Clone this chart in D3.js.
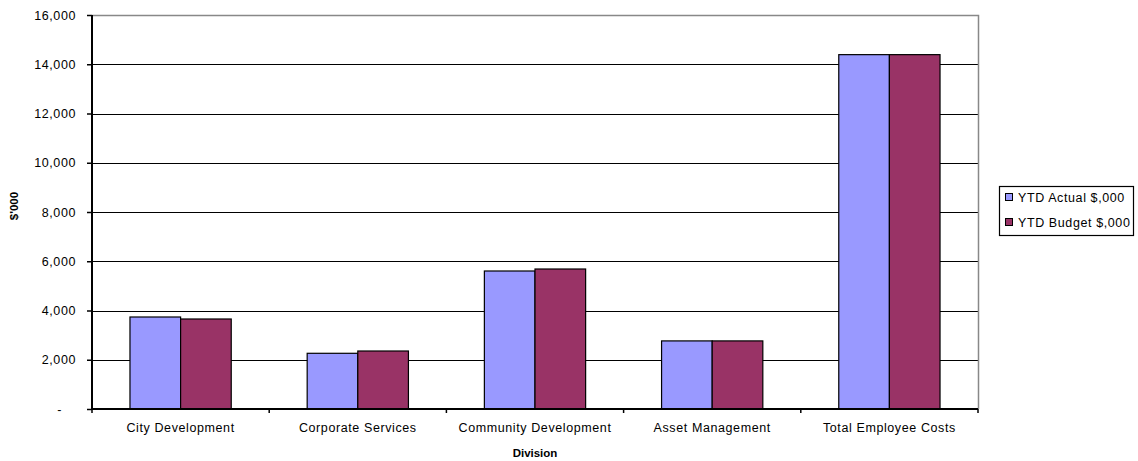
<!DOCTYPE html>
<html><head><meta charset="utf-8">
<script src="https://cdn.jsdelivr.net/npm/d3@7"></script>
<style>body{margin:0;background:#fff;}svg{display:block;font-family:"Liberation Sans",Arial,sans-serif;}</style>
</head><body>
<svg id="c" width="1138" height="461"></svg>
<script>
const categories = ["City Development","Corporate Services","Community Development","Asset Management","Total Employee Costs"];
const seriesNames = ["YTD Actual $,000","YTD Budget $,000"];
const actual = [3736, 2262, 5604, 2765, 14390];
const budget = [3655, 2355, 5685, 2765, 14390];
const yTicks = [0,2000,4000,6000,8000,10000,12000,14000,16000];
const colors = ["#9999ff","#993366"];

const svg = d3.select("#c");
const L=92, R=978, T=15, B=409;
const FS = 12.5, LS = 0.6;
const x = d3.scaleBand().domain(categories).range([L,R]).paddingInner(0).paddingOuter(0);
const y = d3.scaleLinear().domain([0,16000]).range([B,T]);
const bw = x.bandwidth()/3.5;
const xs = d3.scaleBand().domain(seriesNames).range([0,2*bw]);

// gridlines
svg.append("g").selectAll("line").data(yTicks.filter(d=>d>0 && d<16000)).join("line")
  .attr("x1",L).attr("x2",R).attr("y1",d=>Math.round(y(d))+0.5).attr("y2",d=>Math.round(y(d))+0.5)
  .attr("stroke","#000").attr("stroke-width",1);
// plot border top/right gray
svg.append("path").attr("d",`M${L},${T+0.5}H${R+0.5}V${B}`).attr("fill","none").attr("stroke","#888").attr("stroke-width",1.5);

const data = [actual, budget];
const g = svg.append("g");
seriesNames.forEach((s,si)=>{
  g.append("g").selectAll("rect").data(categories).join("rect")
   .attr("x",(c)=>x(c)+0.75*bw+xs(s))
   .attr("y",(c,i)=>y(data[si][i]))
   .attr("width",xs.bandwidth())
   .attr("height",(c,i)=>B-y(data[si][i]))
   .attr("fill",colors[si]).attr("stroke","#000").attr("stroke-width",1.2);
});

// y axis
const ya = svg.append("g").attr("transform",`translate(${L},0)`)
  .call(d3.axisLeft(y).tickValues(yTicks).tickSize(5).tickPadding(11)
   .tickFormat(d=>d===0?"-":d3.format(",")(d)));
ya.select(".domain").attr("stroke","#000").attr("stroke-width",2).attr("d",`M0,${T}V${B}`);
ya.selectAll(".tick line").attr("stroke","#000").attr("stroke-width",1.5);
ya.selectAll("text").attr("font-size",FS).attr("letter-spacing",LS).attr("fill","#000").attr("font-family","Liberation Sans, Arial, sans-serif");
ya.selectAll(".tick").filter(d=>d===0).select("text").attr("dx",-14);

// x axis
const xa = svg.append("g").attr("transform",`translate(0,${B})`)
  .call(d3.axisBottom(x).tickSize(0).tickPadding(14));
xa.select(".domain").attr("stroke","#000").attr("stroke-width",2).attr("d",`M${L},0H${R}`);
xa.selectAll("text").attr("font-size",FS).attr("letter-spacing",LS).attr("fill","#000").attr("font-family","Liberation Sans, Arial, sans-serif");
const bounds = categories.map(c=>x(c)).concat([R]);
xa.append("g").selectAll("line").data(bounds).join("line")
  .attr("x1",d=>d).attr("x2",d=>d).attr("y1",0).attr("y2",4).attr("stroke","#000").attr("stroke-width",1.5);

// titles
svg.append("text").attr("x",(L+R)/2).attr("y",457).attr("text-anchor","middle")
  .attr("font-size",11.5).attr("font-weight","bold").text("Division");
svg.append("text").attr("transform",`translate(18,206) rotate(-90)`).attr("text-anchor","middle")
  .attr("font-size",11.5).attr("font-weight","bold").text("$'000");

// legend
const lg = svg.append("g").attr("transform","translate(999,186)");
lg.append("rect").attr("x",0.5).attr("y",0.5).attr("width",134).attr("height",49)
  .attr("fill","#fff").attr("stroke","#000").attr("stroke-width",1.2);
seriesNames.forEach((s,i)=>{
  const yy = 11 + i*25;
  lg.append("rect").attr("x",6.5).attr("y",yy-3.5).attr("width",7).attr("height",7)
    .attr("fill",colors[i]).attr("stroke","#000").attr("stroke-width",1);
  lg.append("text").attr("x",19).attr("y",yy+5).attr("font-size",FS).attr("letter-spacing",LS).text(s);
});
</script>
</body></html>
